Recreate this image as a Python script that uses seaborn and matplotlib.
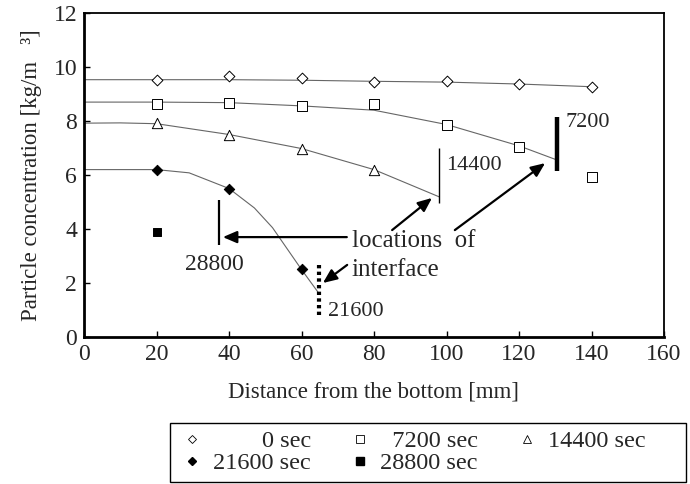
import matplotlib
matplotlib.use("Agg")
import matplotlib.pyplot as plt
from matplotlib.lines import Line2D
from matplotlib.patches import Rectangle
import seaborn as sns
import pandas as pd

# ---------------- data ----------------
times = ["0 sec", "7200 sec", "14400 sec", "21600 sec", "28800 sec"]

# measured points
pts_x_0 = [20, 40, 60, 80, 100, 120, 140]
pts_y_0 = [9.52, 9.67, 9.60, 9.44, 9.48, 9.37, 9.26]
pts_x_7200 = [20, 40, 60, 80, 100, 120, 140]
pts_y_7200 = [8.62, 8.65, 8.55, 8.62, 7.85, 7.04, 5.93]
pts_x_14400 = [20, 40, 60, 80]
pts_y_14400 = [7.91, 7.48, 6.96, 6.19]
pts_x_21600 = [20, 40, 60]
pts_y_21600 = [6.17, 5.50, 2.52]
pts_x_28800 = [20]
pts_y_28800 = [3.89]

# fitted curves
crv_x_0 = [0, 20, 40, 60, 80, 100, 120, 140]
crv_y_0 = [9.53, 9.53, 9.53, 9.51, 9.47, 9.44, 9.37, 9.27]
crv_x_7200 = [0, 20, 40, 60, 80, 100, 120, 130.6]
crv_y_7200 = [8.70, 8.70, 8.68, 8.56, 8.40, 7.87, 7.08, 6.55]
crv_x_14400 = [0, 10, 20, 40, 60, 80, 98]
crv_y_14400 = [7.92, 7.93, 7.90, 7.50, 6.98, 6.20, 5.19]
crv_x_21600 = [0, 20, 29, 40, 47, 52, 60, 64.5]
crv_y_21600 = [6.20, 6.20, 6.08, 5.50, 4.78, 4.05, 2.50, 1.67]

# interface locations
iface_time = ["7200", "14400", "21600", "28800"]
iface_x = [130.6, 98.0, 64.8, 37.2]
iface_ylo = [6.15, 4.96, 0.81, 3.40]
iface_yhi = [8.15, 7.00, 2.78, 5.07]

x_ticks = [0, 20, 40, 60, 80, 100, 120, 140, 160]
y_ticks = [0, 2, 4, 6, 8, 10, 12]

# ---------------- style ----------------
sns.set_theme(style="white")
plt.rcParams["font.family"] = ["Liberation Serif", "DejaVu Serif"]
FS = 16

fig = plt.figure(figsize=(6.9, 4.84), dpi=100)
ax = fig.add_axes([84 / 690, 1 - 337 / 484, 580 / 690, 324 / 484])

curve_color = "#666666"
for cx, cy in [(crv_x_0, crv_y_0), (crv_x_7200, crv_y_7200),
               (crv_x_14400, crv_y_14400), (crv_x_21600, crv_y_21600)]:
    df = pd.DataFrame({"x": cx, "y": cy})
    sns.lineplot(data=df, x="x", y="y", ax=ax, color=curve_color, lw=0.8,
                 sort=False, estimator=None)

marker_specs = [
    (pts_x_0, pts_y_0, "D", "white", 30),
    (pts_x_7200, pts_y_7200, "s", "white", 48),
    (pts_x_14400, pts_y_14400, "^", "white", 55),
    (pts_x_21600, pts_y_21600, "D", "black", 28),
    (pts_x_28800, pts_y_28800, "s", "black", 40),
]
for px, py, mk, fc, s in marker_specs:
    sns.scatterplot(x=px, y=py, ax=ax, marker=mk, s=s, color=fc,
                    edgecolor="black", linewidth=0.7, zorder=5)

# interface bars
iface_styles = {
    "7200": dict(lw=3.2, ls="-"),
    "14400": dict(lw=1.0, ls="-"),
    "21600": dict(lw=3.0, ls=(0, (0.8, 0.8))),
    "28800": dict(lw=1.6, ls="-"),
}
for t, xx, lo, hi in zip(iface_time, iface_x, iface_ylo, iface_yhi):
    ax.plot([xx, xx], [lo, hi], color="black", solid_capstyle="butt",
            **iface_styles[t])

# labels for interfaces
ax.text(132.7, 7.93, "7200", fontsize=FS, ha="left", va="center")
ax.text(99.9, 6.37, "14400", fontsize=FS, ha="left", va="center")
ax.text(67.3, 0.93, "21600", fontsize=FS, ha="left", va="center")
ax.text(36.1, 2.67, "28800", fontsize=FS + 1, ha="center", va="center")
ax.text(73.9, 3.55, "locations  of", fontsize=18, ha="left", va="center")
ax.text(73.9, 2.50, "interface", fontsize=18, ha="left", va="center")

arrow_kw = dict(arrowstyle="-|>,head_length=0.7,head_width=0.3", color="black",
                lw=1.6, shrinkA=0, shrinkB=0)
ax.annotate("", xy=(38.3, 3.70), xytext=(72.5, 3.70), arrowprops=arrow_kw)
ax.annotate("", xy=(96.0, 5.15), xytext=(85.0, 3.96), arrowprops=arrow_kw)
ax.annotate("", xy=(127.2, 6.44), xytext=(102.3, 3.96), arrowprops=arrow_kw)
ax.annotate("", xy=(65.9, 2.0), xytext=(72.6, 2.67), arrowprops=arrow_kw)

# axes
ax.set_xlim(0, 160)
ax.set_ylim(0, 12)
ax.set_xticks(x_ticks)
ax.set_yticks(y_ticks)
ax.set_xticklabels([str(v) for v in x_ticks], fontsize=17)
ax.set_yticklabels([str(v) for v in y_ticks], fontsize=17)
ax.tick_params(axis="both", direction="in", length=4, width=1, color="black",
               left=True, bottom=True, pad=5)
ax.set_xlabel("Distance from the bottom [mm]", fontsize=16.5, labelpad=12)
ax.set_ylabel("Particle concentration [kg/m   \u00b3]", fontsize=16.5, labelpad=8)
for side, sp in ax.spines.items():
    sp.set_visible(True)
    sp.set_color("black")
    sp.set_linewidth(2.0 if side in ("left", "bottom") else 1.3)

# legend (row-major order) in a separately drawn box
handles = {
    "0 sec": Line2D([], [], ls="", marker="D", ms=4.5, mfc="white", mec="black", mew=0.6),
    "7200 sec": Line2D([], [], ls="", marker="s", ms=5.5, mfc="white", mec="black", mew=0.6),
    "14400 sec": Line2D([], [], ls="", marker="^", ms=5.5, mfc="white", mec="black", mew=0.6),
    "21600 sec": Line2D([], [], ls="", marker="D", ms=4.5, mfc="black", mec="black"),
    "28800 sec": Line2D([], [], ls="", marker="s", ms=5.5, mfc="black", mec="black"),
}
pad_labels = {"0 sec": " " * 8 + "0 sec", "7200 sec": "  7200 sec"}
order = ["0 sec", "21600 sec", "7200 sec", "28800 sec", "14400 sec"]
leg = fig.legend([handles[k] for k in order],
                 [pad_labels.get(k, k) for k in order],
                 ncol=3, loc="upper left",
                 bbox_to_anchor=(186 / 690, 1 - 430 / 484),
                 bbox_transform=fig.transFigure,
                 fontsize=17.5, frameon=False,
                 borderaxespad=0, borderpad=0, labelspacing=0.0,
                 handlelength=0.5, handletextpad=0.6, columnspacing=1.75)
fig.add_artist(Rectangle((170 / 690, 1 - 482 / 484), 516 / 690, 59 / 484,
                         transform=fig.transFigure, fill=False,
                         edgecolor="black", lw=1.0))

fig.savefig("out.png", dpi=100)
